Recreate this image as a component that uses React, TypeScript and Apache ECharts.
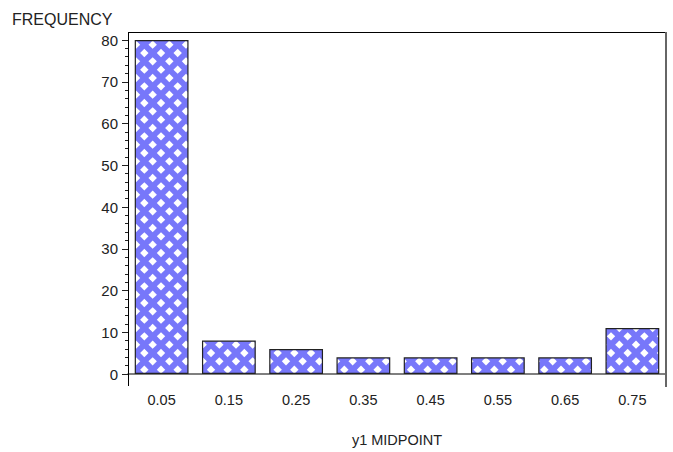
import React, { useEffect, useRef } from "react";
import * as echarts from "echarts";

const categories = ["0.05", "0.15", "0.25", "0.35", "0.45", "0.55", "0.65", "0.75"];
const frequencies = [80, 8, 6, 4, 4, 4, 4, 11];
const yTitle = "FREQUENCY";
const xTitle = "y1 MIDPOINT";

function makePattern(): HTMLCanvasElement {
  const size = 50;
  const c = document.createElement("canvas");
  c.width = size;
  c.height = size;
  const ctx = c.getContext("2d")!;
  ctx.fillStyle = "#7777fa";
  ctx.fillRect(0, 0, size, size);
  const step = size / 3;
  const half = step / 2;
  const r = 4.2;
  ctx.fillStyle = "#ffffff";
  for (let k = -1; k <= 6; k++) {
    const y = k * half + 3;
    for (let i = -1; i <= 4; i++) {
      const x = i * step + (k % 2 !== 0 ? half : 0) + 11;
      ctx.beginPath();
      ctx.moveTo(x, y - r);
      ctx.lineTo(x + r, y);
      ctx.lineTo(x, y + r);
      ctx.lineTo(x - r, y);
      ctx.closePath();
      ctx.fill();
    }
  }
  return c;
}

export default function App() {
  const ref = useRef<HTMLDivElement>(null);
  useEffect(() => {
    if (!ref.current) return;
    const chart = echarts.init(ref.current, undefined, { renderer: "svg" });
    const pattern = makePattern();
    const font = "Liberation Sans, Arial, sans-serif";
    chart.setOption({
      animation: false,
      backgroundColor: "#ffffff",
      textStyle: { fontFamily: font },
      grid: { left: 128, right: 7, top: 40, bottom: 66, containLabel: false },
      xAxis: {
        type: "category",
        data: categories,
        name: xTitle,
        nameLocation: "middle",
        nameGap: 58,
        nameTextStyle: { fontSize: 14.5, color: "#222", fontFamily: font },
        axisLine: { show: true, lineStyle: { color: "#555", width: 1.5 } },
        axisTick: { show: false },
        axisLabel: { margin: 18, fontSize: 14.5, color: "#222", fontFamily: font },
      },
      yAxis: {
        type: "value",
        min: 0,
        max: 80,
        interval: 10,
        axisLine: { show: true, lineStyle: { color: "#000", width: 1 } },
        axisTick: { show: true, length: 6, lineStyle: { color: "#222" } },
        minorTick: { show: true, splitNumber: 5, length: 3, lineStyle: { color: "#222" } },
        splitLine: { show: false },
        axisLabel: { margin: 10, fontSize: 15, color: "#222", fontFamily: font },
      },
      graphic: [
        {
          type: "line",
          shape: { x1: 128, y1: 32.5, x2: 666, y2: 32.5 },
          style: { stroke: "#000", lineWidth: 1 },
          z: 100,
          silent: true,
        },
        {
          type: "line",
          shape: { x1: 128.5, y1: 32, x2: 128.5, y2: 386 },
          style: { stroke: "#000", lineWidth: 1 },
          z: 100,
          silent: true,
        },
        {
          type: "line",
          shape: { x1: 666, y1: 32, x2: 666, y2: 387 },
          style: { stroke: "#666", lineWidth: 2 },
          z: 100,
          silent: true,
        },
        {
          type: "text",
          left: 12,
          top: 11,
          style: { text: yTitle, fontSize: 16, fill: "#222", fontFamily: font },
        },
      ],
      series: [
        {
          type: "bar",
          data: frequencies,
          barWidth: "80%",
          itemStyle: {
            color: { image: pattern, repeat: "repeat" },
            borderColor: "#222",
            borderWidth: 1.2,
          },
        },
      ],
    });
    return () => chart.dispose();
  }, []);
  return (
    <div
      ref={ref}
      style={{ position: "absolute", left: 0, top: 0, width: 673, height: 452 }}
    />
  );
}
